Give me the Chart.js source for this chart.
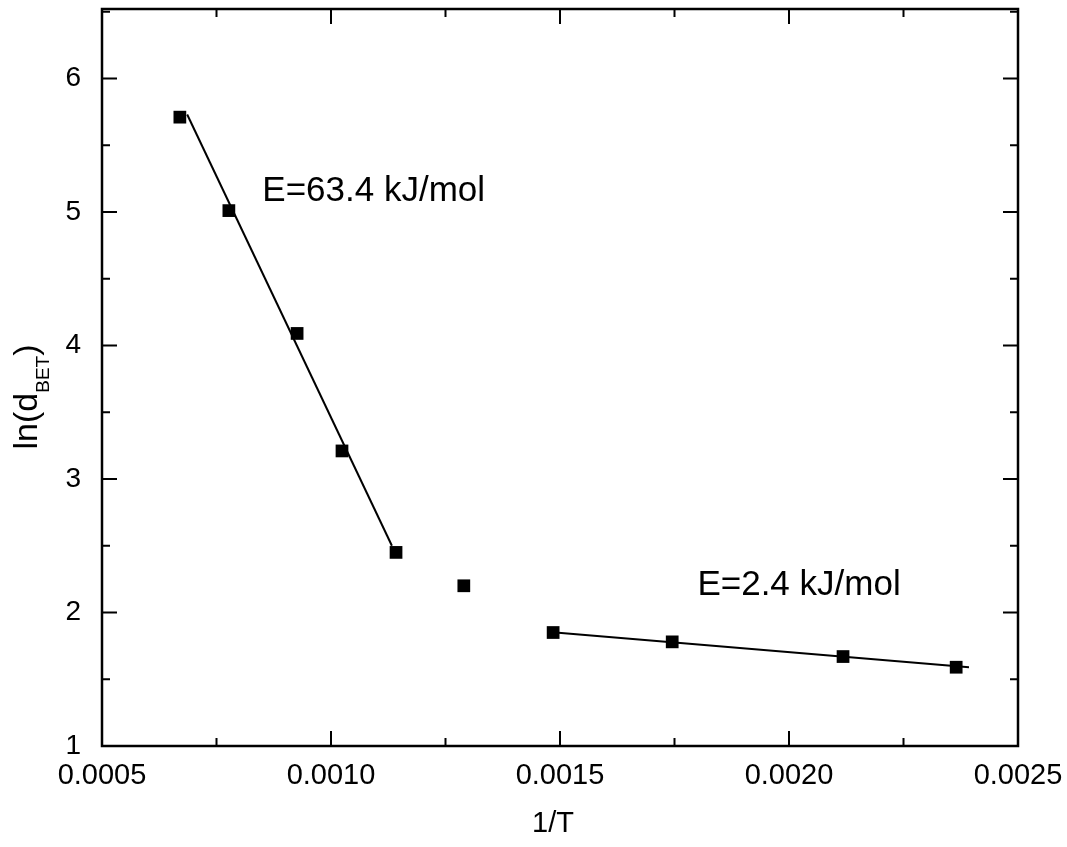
<!DOCTYPE html>
<html>
<head>
<meta charset="utf-8">
<script src="https://cdn.jsdelivr.net/npm/chart.js@4"></script>
<style>
  html, body { margin: 0; padding: 0; background: #fff; }
  #wrap { width: 1067px; height: 847px; }
</style>
</head>
<body>
<div id="wrap"><canvas id="graphique"></canvas></div>
<script>
// measured points (1/T, ln(d_BET))
const invT = [0.00067, 0.000777, 0.000926, 0.001024, 0.001142, 0.00129, 0.001485, 0.001745, 0.002118, 0.002365];
const lnD  = [5.71, 5.01, 4.09, 3.21, 2.45, 2.20, 1.85, 1.78, 1.67, 1.59];

// fitted lines
const fitHighX = [0.000686, 0.001133];
const fitHighY = [5.73, 2.50];
const fitLowX  = [0.00149, 0.002393];
const fitLowY  = [1.85, 1.59];

const xTicks = [0.0005, 0.0010, 0.0015, 0.0020, 0.0025];
const xMinor = [0.00075, 0.00125, 0.00175, 0.00225];
const yTicks = [1, 2, 3, 4, 5, 6];
const yMinor = [1.5, 2.5, 3.5, 4.5, 5.5, 6.5];

// annotation texts, anchored in data units (left, baseline)
const labels = [
  { text: 'E=63.4 kJ/mol', x: 0.00085, y: 5.08 },
  { text: 'E=2.4 kJ/mol',  x: 0.0018,  y: 2.13 }
];

const FONT = '"Liberation Sans", Arial, sans-serif';

const toPts = (xs, ys) => xs.map((x, i) => ({ x: x, y: ys[i] }));

// frame, inward ticks on all sides, axis titles and annotations
const cadre = {
  id: 'cadre',
  afterDraw(chart) {
    const { ctx, chartArea: a, scales } = chart;
    const sx = scales.x, sy = scales.y;
    ctx.save();
    ctx.strokeStyle = '#000';
    ctx.lineWidth = 2.5;
    ctx.strokeRect(a.left, a.top, a.right - a.left, a.bottom - a.top);

    ctx.lineWidth = 2;
    const tickX = (v, len) => {
      const p = sx.getPixelForValue(v);
      ctx.beginPath();
      ctx.moveTo(p, a.bottom); ctx.lineTo(p, a.bottom - len);
      ctx.moveTo(p, a.top); ctx.lineTo(p, a.top + len);
      ctx.stroke();
    };
    const tickY = (v, len) => {
      const p = sy.getPixelForValue(v);
      ctx.beginPath();
      ctx.moveTo(a.left, p); ctx.lineTo(a.left + len, p);
      ctx.moveTo(a.right, p); ctx.lineTo(a.right - len, p);
      ctx.stroke();
    };
    xTicks.forEach(v => tickX(v, 15));
    xMinor.forEach(v => tickX(v, 8));
    yTicks.forEach(v => tickY(v, 15));
    yMinor.forEach(v => tickY(v, 8));

    ctx.fillStyle = '#000';
    // x title
    ctx.font = '29px ' + FONT;
    ctx.textAlign = 'center';
    ctx.textBaseline = 'alphabetic';
    ctx.fillText('1/T', 553, 832);

    // y title with subscript
    ctx.save();
    ctx.translate(37, 397);
    ctx.rotate(-Math.PI / 2);
    ctx.textAlign = 'left';
    const main = '34px ' + FONT, sub = '19px ' + FONT;
    ctx.font = main;
    const w1 = ctx.measureText('ln(d').width;
    const w3 = ctx.measureText(')').width;
    ctx.font = sub;
    const w2 = ctx.measureText('BET').width;
    let x0 = -(w1 + w2 + w3) / 2;
    ctx.font = main;
    ctx.fillText('ln(d', x0, 0);
    ctx.font = sub;
    ctx.fillText('BET', x0 + w1, 12);
    ctx.font = main;
    ctx.fillText(')', x0 + w1 + w2, 0);
    ctx.restore();

    // energy labels
    ctx.font = '35px ' + FONT;
    ctx.textAlign = 'left';
    labels.forEach(l => {
      ctx.fillText(l.text, sx.getPixelForValue(l.x), sy.getPixelForValue(l.y));
    });
    ctx.restore();
  }
};

new Chart(document.getElementById('graphique'), {
  type: 'scatter',
  data: {
    datasets: [
      {
        label: 'fit high T',
        data: toPts(fitHighX, fitHighY),
        showLine: true,
        borderColor: '#000',
        borderWidth: 2,
        pointRadius: 0
      },
      {
        label: 'fit low T',
        data: toPts(fitLowX, fitLowY),
        showLine: true,
        borderColor: '#000',
        borderWidth: 2,
        pointRadius: 0
      },
      {
        label: 'ln(dBET)',
        data: toPts(invT, lnD),
        pointStyle: 'rect',
        pointRadius: 9,
        pointBackgroundColor: '#000',
        pointBorderColor: '#000',
        pointBorderWidth: 0
      }
    ]
  },
  options: {
    responsive: true,
    maintainAspectRatio: false,
    animation: false,
    events: [],
    layout: { padding: { top: 7, right: 49, left: 0, bottom: 0 } },
    plugins: {
      legend: { display: false },
      tooltip: { enabled: false }
    },
    scales: {
      x: {
        type: 'linear',
        min: 0.0005,
        max: 0.0025,
        grid: { display: false, drawTicks: false },
        border: { display: false },
        afterBuildTicks: s => { s.ticks = xTicks.map(v => ({ value: v })); },
        afterFit: s => { s.height = 101; s.paddingLeft = 0; s.paddingRight = 0; },
        ticks: {
          padding: 13,
          color: '#000',
          font: { family: FONT, size: 29 },
          callback: v => v.toFixed(4)
        }
      },
      y: {
        type: 'linear',
        min: 1,
        max: 6.52,
        grid: { display: false, drawTicks: false },
        border: { display: false },
        afterBuildTicks: s => { s.ticks = yTicks.map(v => ({ value: v })); },
        afterFit: s => { s.width = 102; s.paddingTop = 0; s.paddingBottom = 0; },
        ticks: {
          padding: 21,
          color: '#000',
          font: { family: FONT, size: 28 },
          callback: v => String(v)
        }
      }
    }
  },
  plugins: [cadre]
});
</script>
</body>
</html>
